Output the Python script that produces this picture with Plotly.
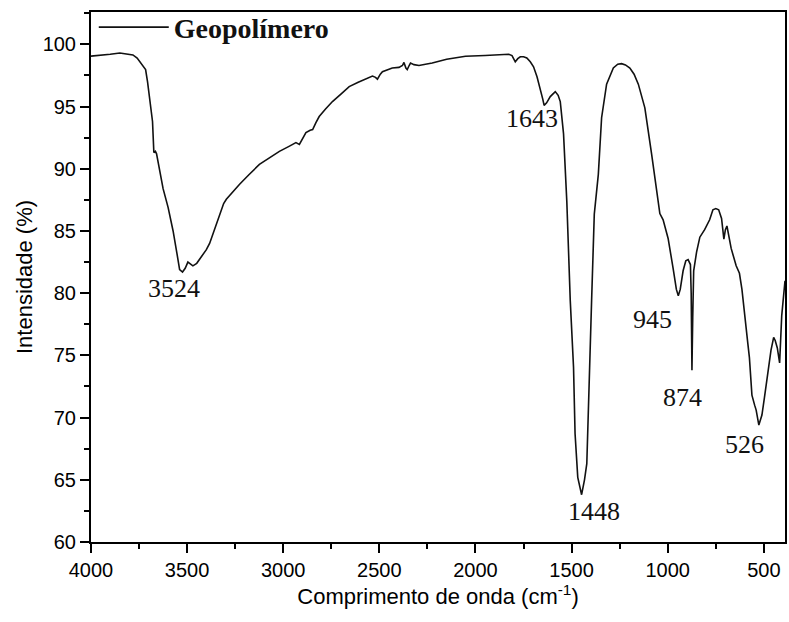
import plotly.graph_objects as go

# FTIR spectrum of the geopolymer sample (wavenumber in cm-1, transmittance in %)
wavenumber = [
    4000, 3950, 3900, 3850, 3800, 3782, 3760, 3746, 3730, 3716, 3706, 3694,
    3680, 3673, 3665, 3659, 3642, 3625, 3599, 3573, 3553, 3539, 3524, 3510,
    3496, 3480, 3470, 3450, 3426, 3400, 3383, 3360, 3331, 3310, 3296, 3260,
    3227, 3180, 3124, 3070, 3020, 2970, 2934, 2916, 2900, 2882, 2860, 2847,
    2830, 2813, 2780, 2744, 2700, 2657, 2610, 2571, 2536, 2520, 2510, 2495,
    2484, 2433, 2398, 2380, 2372, 2362, 2355, 2345, 2338, 2320, 2294, 2260,
    2225, 2150, 2052, 1950, 1880, 1827, 1810, 1800, 1793, 1780, 1767, 1750,
    1733, 1715, 1698, 1680, 1663, 1650, 1643, 1630, 1611, 1595, 1585, 1570,
    1559, 1542, 1525, 1507, 1490, 1482, 1468, 1448, 1433, 1421, 1404, 1396,
    1382, 1361, 1344, 1318, 1283, 1260, 1240, 1220, 1197, 1175, 1153, 1119,
    1084, 1050, 1041, 1024, 1016, 998, 972, 955, 945, 935, 920, 906, 894,
    882, 878, 874, 870, 865, 850, 833, 808, 782, 765, 750, 735, 720, 708,
    700, 692, 680, 670, 644, 627, 614, 601, 583, 575, 562, 548, 540, 526,
    510, 497, 480, 463, 449, 441, 430, 418, 407, 393, 390,
]
transmittance = [
    99.05, 99.1, 99.2, 99.3, 99.2, 99.15, 98.9, 98.6, 98.3, 97.97, 97.0, 95.4,
    93.8, 91.3, 91.4, 91.2, 89.8, 88.4, 86.9, 85.0, 83.2, 81.9, 81.7, 82.0,
    82.5, 82.3, 82.2, 82.4, 82.9, 83.5, 84.0, 85.0, 86.3, 87.2, 87.55, 88.2,
    88.75, 89.5, 90.35, 90.9, 91.4, 91.8, 92.1, 91.96, 92.4, 92.9, 93.1, 93.15,
    93.7, 94.2, 94.8, 95.4, 96.0, 96.6, 96.95, 97.2, 97.45, 97.35, 97.2, 97.6,
    97.8, 98.1, 98.15, 98.3, 98.55, 98.1, 97.97, 98.3, 98.5, 98.37, 98.3, 98.4,
    98.5, 98.8, 99.04, 99.1, 99.15, 99.2, 99.1, 98.8, 98.6, 98.85, 99.0, 99.0,
    98.9, 98.6, 98.2, 97.4, 96.5, 95.6, 95.1, 95.3, 95.8, 96.1, 96.2, 95.9,
    95.4, 92.8, 87.4, 79.4, 74.05, 68.7, 65.2, 63.8, 65.0, 66.3, 74.05, 79.4,
    86.35, 89.55, 94.1, 96.8, 98.1, 98.4, 98.45, 98.35, 98.1, 97.6, 96.8, 94.9,
    91.2, 87.45, 86.4, 85.9, 85.5, 84.4, 82.0, 80.3, 79.8, 80.3, 81.8, 82.6, 82.7,
    82.3, 80.0, 73.8, 78.0, 81.8, 83.3, 84.5, 85.1, 85.9, 86.7, 86.8, 86.7, 86.0, 84.35,
    85.1, 85.4, 84.4, 83.6, 82.2, 81.6, 80.3, 78.2, 75.9, 74.8, 71.8, 71.0, 70.6, 69.4,
    70.2, 71.6, 73.5, 75.4, 76.45, 76.2, 75.6, 74.4, 78.2, 80.7, 81.0,
]

# Band assignments: label text, wavenumber, transmittance at the band,
# and the offset of the label from the band (px)
band_labels = ["3524", "1643", "1448", "945", "874", "526"]
band_pos = [3524, 1643, 1448, 945, 874, 526]
band_val = [81.7, 95.1, 63.8, 79.8, 73.8, 69.4]
label_dx = [-9, -12, 12, -26, -9, -14]
label_dy = [16, 13, 17, 24, 27, 19]

AXIS_FONT = "Liberation Sans, Arial, sans-serif"
SERIF = "Liberation Serif, Times New Roman, serif"

fig = go.Figure()
fig.add_trace(go.Scatter(
    x=wavenumber, y=transmittance, mode="lines",
    name="<b>Geopolímero</b>",
    line=dict(color="#111111", width=1.6),
))

for txt, xv, yv, dx, dy in zip(band_labels, band_pos, band_val, label_dx, label_dy):
    fig.add_annotation(
        x=xv, y=yv, text=txt, showarrow=False,
        xshift=dx, yshift=-dy,
        font=dict(family=SERIF, size=26, color="#111111"),
    )

axis_common = dict(
    showline=True, linecolor="black", linewidth=2, mirror=True,
    ticks="outside", ticklen=9, tickwidth=2, tickcolor="black",
    showgrid=False, zeroline=False,
    tickfont=dict(family=AXIS_FONT, size=20, color="black"),
)

fig.update_xaxes(
    range=[4000, 390], tick0=500, dtick=500,
    minor=dict(ticks="outside", ticklen=5, tickwidth=2, tickcolor="black", dtick=250, tick0=250),
    title=dict(text="Comprimento de onda (cm<sup>-1</sup>)",
               font=dict(family=AXIS_FONT, size=22, color="black"), standoff=6),
    **axis_common,
)
fig.update_yaxes(
    range=[60, 102.6], tick0=60, dtick=5,
    minor=dict(ticks="outside", ticklen=5, tickwidth=2, tickcolor="black", dtick=2.5, tick0=60),
    title=dict(text="Intensidade (%)",
               font=dict(family=AXIS_FONT, size=22, color="black"), standoff=4),
    **axis_common,
)

fig.update_layout(
    width=789, height=622,
    margin=dict(l=91, r=2, t=11, b=80),
    paper_bgcolor="white", plot_bgcolor="white",
    showlegend=True,
    legend=dict(
        x=0.004, y=1.018, xanchor="left", yanchor="top",
        bgcolor="rgba(0,0,0,0)", borderwidth=0,
        itemwidth=70, tracegroupgap=0,
        font=dict(family=SERIF, size=28, color="#111111"),
    ),
)

fig.write_html("out.html")
